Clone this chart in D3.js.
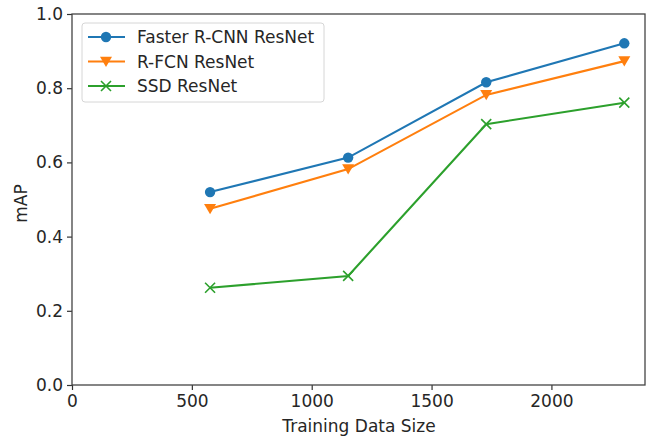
<!DOCTYPE html>
<html>
  <head>
    <meta charset="utf-8" />
    <script src="https://d3js.org/d3.v7.min.js"></script>
    <style>
      body { margin: 0; background: #fff; }
      text { font-family: "DejaVu Sans", sans-serif; fill: #262626; }
    </style>
  </head>
  <body>
    <svg id="chart"></svg>
    <script>
      // Data
      var sizes = [576, 1152, 1728, 2304];
      var fasterRcnn = [0.52, 0.613, 0.816, 0.921];
      var rfcn = [0.475, 0.582, 0.782, 0.873];
      var ssd = [0.262, 0.294, 0.703, 0.761];
      var seriesNames = ["Faster R-CNN ResNet", "R-FCN ResNet", "SSD ResNet"];
      var xTicks = [0, 500, 1000, 1500, 2000];
      var yTicks = [0.0, 0.2, 0.4, 0.6, 0.8, 1.0];

      var width = 651;
      var height = 437;
      var margin = { top: 14, right: 6, bottom: 52, left: 72 };
      var fontSize = "17px";

      var svg = d3.select("#chart").attr("width", width).attr("height", height);

      var x = d3.scaleLinear()
        .domain([0, 2304 + 0.05 * (2304 - 576)])
        .range([margin.left, width - margin.right]);
      var y = d3.scaleLinear()
        .domain([0, 1])
        .range([height - margin.bottom, margin.top]);

      // axes
      var xAxis = svg.append("g")
        .attr("transform", `translate(0,${height - margin.bottom})`)
        .call(d3.axisBottom(x).tickValues(xTicks).tickSize(5).tickPadding(5).tickFormat(d3.format("d")));
      var yAxis = svg.append("g")
        .attr("transform", `translate(${margin.left},0)`)
        .call(d3.axisLeft(y).tickValues(yTicks).tickSize(5).tickPadding(4).tickFormat(d3.format(".1f")));
      [xAxis, yAxis].forEach(function (g) {
        g.select(".domain").remove();
        g.selectAll(".tick line").attr("stroke", "#333").attr("stroke-width", 1.2);
        g.selectAll(".tick text").style("font-size", fontSize).attr("fill", "#262626");
      });

      // frame
      svg.append("rect")
        .attr("x", margin.left)
        .attr("y", margin.top)
        .attr("width", width - margin.left - margin.right)
        .attr("height", height - margin.top - margin.bottom)
        .attr("fill", "none")
        .attr("stroke", "#444")
        .attr("stroke-width", 1.3);

      // axis labels
      svg.append("text")
        .attr("x", 359)
        .attr("y", 432)
        .attr("text-anchor", "middle")
        .style("font-size", fontSize)
        .text("Training Data Size");
      svg.append("text")
        .attr("transform", `translate(27,${(margin.top + height - margin.bottom) / 2 + 4}) rotate(-90)`)
        .attr("text-anchor", "middle")
        .style("font-size", fontSize)
        .text("mAP");

      var colors = ["#1f77b4", "#ff7f0e", "#2ca02c"];
      var allSeries = [fasterRcnn, rfcn, ssd];
      var markers = ["circle", "triangle", "x"];

      function drawMarker(g, type, cx, cy, color) {
        if (type === "circle") {
          g.append("circle").attr("cx", cx).attr("cy", cy).attr("r", 5.2).attr("fill", color);
        } else if (type === "triangle") {
          var s = 6;
          g.append("path")
            .attr("d", `M${cx - s},${cy - s * 0.8}L${cx + s},${cy - s * 0.8}L${cx},${cy + s * 0.9}Z`)
            .attr("fill", color);
        } else {
          var s2 = 5;
          g.append("path")
            .attr("d", `M${cx - s2},${cy - s2}L${cx + s2},${cy + s2}M${cx - s2},${cy + s2}L${cx + s2},${cy - s2}`)
            .attr("stroke", color).attr("stroke-width", 1.6).attr("fill", "none");
        }
      }

      var line = d3.line().x((d, i) => x(sizes[i])).y((d) => y(d));

      allSeries.forEach(function (vals, k) {
        var g = svg.append("g");
        g.append("path")
          .attr("d", line(vals))
          .attr("fill", "none")
          .attr("stroke", colors[k])
          .attr("stroke-width", 2.1);
        vals.forEach(function (v, i) {
          drawMarker(g, markers[k], x(sizes[i]), y(v), colors[k]);
        });
      });

      // legend
      var legend = svg.append("g");
      legend.append("rect")
        .attr("x", 82).attr("y", 23).attr("width", 242).attr("height", 79)
        .attr("rx", 3)
        .attr("fill", "#fff").attr("fill-opacity", 0.8)
        .attr("stroke", "#d6d6d6").attr("stroke-width", 1);
      seriesNames.forEach(function (name, k) {
        var ly = 37 + k * 24.5;
        legend.append("line")
          .attr("x1", 88).attr("x2", 125).attr("y1", ly).attr("y2", ly)
          .attr("stroke", colors[k]).attr("stroke-width", 2.1);
        drawMarker(legend, markers[k], 106, ly, colors[k]);
        legend.append("text")
          .attr("x", 137).attr("y", ly + 6)
          .style("font-size", fontSize)
          .text(name);
      });
    </script>
  </body>
</html>
